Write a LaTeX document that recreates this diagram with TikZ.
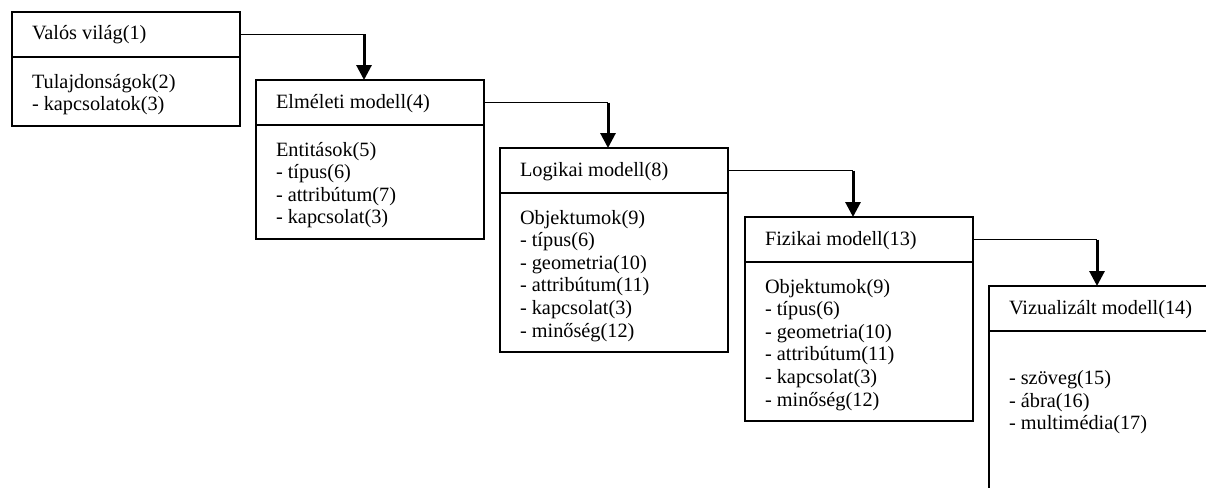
\documentclass[tikz,border=0pt]{standalone}
\usepackage{fontspec}
\setmainfont{Liberation Serif}
\usetikzlibrary{arrows.meta,calc}
\begin{document}
\begin{tikzpicture}[x=1pt,y=-1pt,
  box/.style={draw, line width=2pt, minimum width=228pt, inner sep=0pt, outer sep=0pt, anchor=north west},
  hdr/.style={box, minimum height=45pt},
  txt/.style={anchor=base west, inner sep=0pt, outer sep=0pt, font=\fontsize{20.3}{22.6}\selectfont},
  hline/.style={line width=1.5pt},
  vline/.style={line width=3pt, -{Triangle[length=15pt,width=15pt]}},
]
\useasboundingbox (0,0) rectangle (1206,487);
\fill[white] (0,0) rectangle (1206,487);
\clip (0,0) rectangle (1206,487);

% Box 1
\node[hdr] (h1) at (12,12) {};
\node[box, minimum height=68.6pt] (b1) at (h1.south west) {};
\node[txt] (t1) at ($(h1.north west)+(20,28)$) {Valós világ(1)};
\foreach [count=\i] \s in {{Tulajdonságok(2)},{- kapcsolatok(3)}}
  \node[txt] (l1-\i) at ($(b1.north west)+(20,{31+22.6*(\i-1)})$) {\s};

% Box 2
\node[hdr] (h2) at (256,80) {};
\node[box, minimum height=113.8pt] (b2) at (h2.south west) {};
\node[txt] (t2) at ($(h2.north west)+(20,28)$) {Elméleti modell(4)};
\foreach [count=\i] \s in {{Entitások(5)},{- típus(6)},{- attribútum(7)},{- kapcsolat(3)}}
  \node[txt] (l2-\i) at ($(b2.north west)+(20,{31+22.6*(\i-1)})$) {\s};

% Box 3
\node[hdr] (h3) at (500,148) {};
\node[box, minimum height=159pt] (b3) at (h3.south west) {};
\node[txt] (t3) at ($(h3.north west)+(20,28)$) {Logikai modell(8)};
\foreach [count=\i] \s in {{Objektumok(9)},{- típus(6)},{- geometria(10)},{- attribútum(11)},{- kapcsolat(3)},{- minőség(12)}}
  \node[txt] (l3-\i) at ($(b3.north west)+(20,{31+22.6*(\i-1)})$) {\s};

% Box 4
\node[hdr] (h4) at (745,217) {};
\node[box, minimum height=159pt] (b4) at (h4.south west) {};
\node[txt] (t4) at ($(h4.north west)+(20,28)$) {Fizikai modell(13)};
\foreach [count=\i] \s in {{Objektumok(9)},{- típus(6)},{- geometria(10)},{- attribútum(11)},{- kapcsolat(3)},{- minőség(12)}}
  \node[txt] (l4-\i) at ($(b4.north west)+(20,{31+22.6*(\i-1)})$) {\s};

% Box 5 (runs past the right and bottom edges)
\node[hdr] (h5) at (989,286) {};
\node[box, minimum height=250pt] (b5) at (h5.south west) {};
\node[txt] (t5) at ($(h5.north west)+(20,28)$) {Vizualizált modell(14)};
\foreach [count=\i] \s in {{- szöveg(15)},{- ábra(16)},{- multimédia(17)}}
  \node[txt] (l5-\i) at ($(b5.north west)+(20,{31+22.6*\i})$) {\s};

% Connectors
\foreach \p/\n in {1/2,2/3,3/4,4/5}{
  \coordinate (a\n) at ($(h\n.north west)+(108,0)$);
  \coordinate (c\n) at (a\n |- h\p.east);
  \draw[hline] (h\p.east) -- (c\n);
  \draw[vline] (c\n) -- (a\n);
}
\end{tikzpicture}
\end{document}
